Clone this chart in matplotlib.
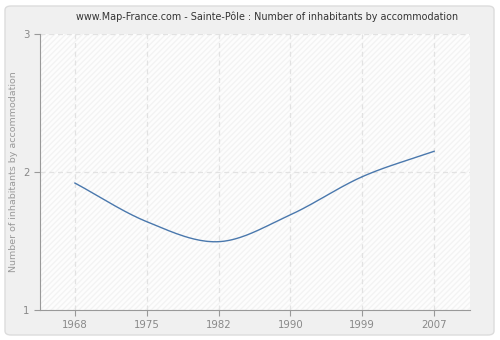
import numpy as np
import matplotlib
matplotlib.use("Agg")
import matplotlib.pyplot as plt
from matplotlib.patches import FancyBboxPatch

years = ["1968", "1975", "1982", "1990", "1999", "2007"]
values = [1.92, 1.64, 1.495, 1.69, 1.966, 2.15]
yticks = [1, 2, 3]

plt.rcParams['font.family'] = ['DejaVu Sans']

fig = plt.figure(figsize=(5, 3.4), dpi=100)
fig.patch.set_facecolor("white")
panel = FancyBboxPatch((5/500, 5/340), 489/500, 329/340,
                       boxstyle="round,pad=0,rounding_size=0.012",
                       transform=fig.transFigure, facecolor="#f0f0f0",
                       edgecolor="#dcdcdc", linewidth=1, zorder=-10)
fig.patches.append(panel)

ax = fig.add_axes([40/500, 30/340, 430/500, 276/340])
ax.set_facecolor("#fdfdfd")
ax.add_patch(plt.Rectangle((0, 0), 1, 1, transform=ax.transAxes, facecolor="none",
                           edgecolor="#f3f3f3", hatch="//////", linewidth=0, zorder=0))

# smooth curve through points (Catmull-Rom rendering)
x = np.arange(len(values), dtype=float)
y = np.array(values)
xs, ys = [], []
P = np.column_stack([x, y])
Pext = np.vstack([2*P[0]-P[1], P, 2*P[-1]-P[-2]])
for i in range(1, len(Pext)-2):
    p0, p1, p2, p3 = Pext[i-1], Pext[i], Pext[i+1], Pext[i+2]
    t = np.linspace(0, 1, 40)[:, None]
    pts = 0.5*((2*p1) + (-p0+p2)*t + (2*p0-5*p1+4*p2-p3)*t**2 + (-p0+3*p1-3*p2+p3)*t**3)
    xs.append(pts[:, 0]); ys.append(pts[:, 1])
ax.plot(np.concatenate(xs), np.concatenate(ys), color="#4a78ad", linewidth=1.0, zorder=3)

ax.set_xlim(-0.486, 5.5)
ax.set_ylim(1, 3)
ax.set_xticks(x)
ax.set_xticklabels(years)
ax.set_yticks(yticks)
ax.grid(True, color="#e2e2e2", linestyle=(0, (4, 3)), linewidth=0.9)
ax.set_axisbelow(True)
for s in ["top", "right"]:
    ax.spines[s].set_visible(False)
for s in ["left", "bottom"]:
    ax.spines[s].set_color("#999999")
ax.tick_params(colors="#999999", labelcolor="#888888", labelsize=7.3, length=4, width=0.8)
ax.set_ylabel("Number of inhabitants by accommodation", color="#999999", fontsize=6.8)
fig.text(267/500, 1 - 17/340, "www.Map-France.com - Sainte-Pôle : Number of inhabitants by accommodation",
         ha="center", va="center", fontsize=6.9, color="#333333")

fig.savefig("out.png", dpi=100, facecolor=fig.get_facecolor())
